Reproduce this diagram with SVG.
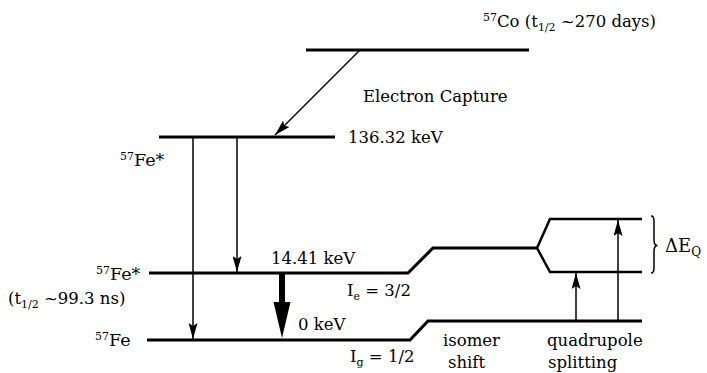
<svg xmlns="http://www.w3.org/2000/svg" width="707" height="373" viewBox="0 0 707 373">
<defs>
<style>
text{font-family:'DejaVu Serif',serif;font-size:16.5px;fill:#000}
.s{font-size:11px}
.big{font-size:17.5px}
.lvl{fill:none;stroke:#000;stroke-width:3;stroke-linejoin:miter}
.lvl2{fill:none;stroke:#000;stroke-width:2.5;stroke-linejoin:miter}
.tr{fill:none;stroke:#000;stroke-width:1.5}
</style>
<marker id="ah" markerUnits="userSpaceOnUse" markerWidth="16" markerHeight="9" refX="16" refY="4.5" orient="auto">
<path d="M0,0 L16,4.5 L0,9 L3,4.5 z" fill="#000"/>
</marker>
</defs>
<rect width="707" height="373" fill="#fff"/>

<g id="co57">
<line class="lvl" x1="306" y1="50" x2="529" y2="50"/>
<text x="483" y="27"><tspan class="s" dy="-6">57</tspan><tspan dy="6">Co (t</tspan><tspan class="s" dy="4">1/2</tspan><tspan dy="-4"> ~270 days)</tspan></text>
</g>

<g id="label-ec">
<text x="363" y="102">Electron Capture</text>
</g>

<g id="fe57-136">
<line class="lvl" x1="159" y1="137" x2="335" y2="137"/>
<text x="348" y="143">136.32 keV</text>
<text x="120" y="166" class="big"><tspan class="s" dy="-6">57</tspan><tspan dy="6">Fe*</tspan></text>
</g>

<g id="fe57-14">
<polyline class="lvl" points="149,273 408,273 433,248 537,248"/>
<text x="271" y="264">14.41 keV</text>
<text x="96" y="280" class="big"><tspan class="s" dy="-6">57</tspan><tspan dy="6">Fe*</tspan></text>
<text x="8" y="304">(t<tspan class="s" dy="4">1/2</tspan><tspan dy="-4"> ~99.3 ns)</tspan></text>
<text x="347" y="296">I<tspan class="s" dy="4">e</tspan><tspan dy="-4"> = 3/2</tspan></text>
</g>

<g id="fe57-0">
<polyline class="lvl" points="147,340 410,340 428,321 642,321"/>
<text x="298" y="330">0 keV</text>
<text x="95" y="346" class="big"><tspan class="s" dy="-6">57</tspan><tspan dy="6">Fe</tspan></text>
<text x="350" y="362">I<tspan class="s" dy="4">g</tspan><tspan dy="-4"> = 1/2</tspan></text>
</g>

<g id="quad-split">
<polyline class="lvl2" points="537,248 550,219 642,219"/>
<polyline class="lvl2" points="537,248 550,272 642,272"/>
<path class="tr" d="M651,216 Q654,216 654,221 L654,240 Q654,245.5 657.5,245.5 Q654,245.5 654,251 L654,268 Q654,273 651,273"/>
<text x="665" y="252" style="font-size:18px">ΔE<tspan style="font-size:12px" dy="4">Q</tspan></text>
</g>

<g id="label-isomer">
<text x="443" y="346">isomer</text>
<text x="448" y="368">shift</text>
</g>

<g id="label-quad">
<text x="547" y="346">quadrupole</text>
<text x="548" y="368">splitting</text>
</g>

<g id="connectors">
<line class="tr" x1="360" y1="50" x2="275" y2="135" marker-end="url(#ah)"/>
<line class="tr" x1="193" y1="137" x2="193" y2="339" marker-end="url(#ah)"/>
<line class="tr" x1="237" y1="137" x2="237" y2="272" marker-end="url(#ah)"/>
<rect x="279" y="274" width="6" height="29" fill="#000"/>
<polygon points="273.5,302 290.5,302 282,338" fill="#000"/>
<line class="tr" x1="576" y1="321" x2="576" y2="273" marker-end="url(#ah)"/>
<line class="tr" x1="618" y1="321" x2="618" y2="220" marker-end="url(#ah)"/>
</g>
</svg>
